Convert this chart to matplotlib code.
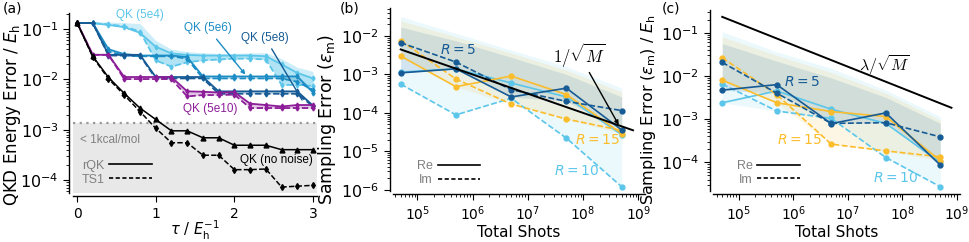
import numpy as np
import matplotlib
matplotlib.use("Agg")
import matplotlib.pyplot as plt
from matplotlib.lines import Line2D

# ---- panel (a): QKD energy error vs tau ----
tau = [0.0, 0.2, 0.4, 0.6, 0.8, 1.0, 1.2, 1.4, 1.6, 1.8, 2.0, 2.2, 2.4, 2.6, 2.8, 3.0]

qk5e4_rqk = [0.133, 0.133, 0.122, 0.11, 0.085, 0.045, 0.033, 0.031, 0.03, 0.03, 0.03, 0.03, 0.029, 0.02, 0.0135, 0.0105]
qk5e4_ts1 = [0.133, 0.133, 0.125, 0.115, 0.09, 0.024, 0.018, 0.022, 0.024, 0.025, 0.026, 0.026, 0.025, 0.0078, 0.0078, 0.0074]
qk5e4_hi = [0.136, 0.14, 0.14, 0.135, 0.13, 0.06, 0.04, 0.036, 0.034, 0.033, 0.033, 0.034, 0.034, 0.026, 0.0175, 0.0145]

qk5e6_rqk = [0.133, 0.133, 0.04, 0.032, 0.03, 0.03, 0.03, 0.028, 0.0115, 0.0115, 0.0115, 0.0115, 0.0115, 0.0115, 0.0115, 0.0055]
qk5e6_ts1 = [0.133, 0.133, 0.036, 0.03, 0.029, 0.029, 0.029, 0.026, 0.0105, 0.0105, 0.0105, 0.0105, 0.0105, 0.0105, 0.009, 0.0062]

qk5e8_rqk = [0.133, 0.133, 0.031, 0.031, 0.031, 0.0112, 0.0112, 0.0112, 0.0112, 0.0058, 0.0058, 0.0058, 0.0058, 0.0058, 0.0058, 0.003]
qk5e8_ts1 = [0.133, 0.133, 0.03, 0.03, 0.03, 0.0105, 0.0105, 0.0105, 0.0105, 0.0052, 0.0052, 0.0052, 0.0052, 0.0052, 0.0052, 0.0029]

qk5e10_rqk = [0.136, 0.031, 0.031, 0.0112, 0.0112, 0.0112, 0.0112, 0.0058, 0.0057, 0.0055, 0.0056, 0.0033, 0.0031, 0.0029, 0.0031, 0.0031]
qk5e10_ts1 = [0.136, 0.031, 0.031, 0.0102, 0.0102, 0.0102, 0.0102, 0.0046, 0.0049, 0.0049, 0.005, 0.0027, 0.0027, 0.0027, 0.0027, 0.0027]

exact_rqk = [0.136, 0.029, 0.011, 0.0053, 0.0027, 0.0016, 0.00095, 0.00095, 0.00069, 0.00069, 0.00049, 0.00049, 0.00049, 0.0004, 0.0004, 0.0004]
exact_ts1 = [0.136, 0.028, 0.0103, 0.0049, 0.0023, 0.00107, 0.00055, 0.00055, 0.00031, 0.00031, 0.00016, 0.00016, 0.000165, 0.000072, 0.000075, 0.000078]

chem_acc = 1.35e-3

# ---- panels (b), (c): sampling error vs total shots ----
shots = [5e4, 5e5, 5e6, 5e7, 5e8]
ref_shots = [5e4, 8e8]
lam = 52.0

b_r5_re = [1.1e-3, 1.4e-3, 2.6e-4, 4.4e-4, 3.6e-5]
b_r5_im = [6.7e-3, 2.1e-3, 4.0e-4, 2.0e-4, 1.15e-4]
b_r10_re = [1.15e-3, 1.4e-3, 6.0e-4, 2.6e-4, 2.7e-5]
b_r10_im = [5.6e-4, 8.9e-5, 2.4e-4, 2.2e-5, 1.2e-6]
b_r15_re = [3.0e-3, 4.8e-4, 9.1e-4, 3.0e-4, 2.9e-5]
b_r15_im = [7.6e-3, 7.6e-4, 1.7e-4, 6.9e-5, 3.5e-5]
b_r5_hi = [0.017, 0.0075, 2.8e-3, 1.0e-3, 2.6e-4]
b_r10_hi = [0.032, 0.0117, 4.3e-3, 1.6e-3, 4.4e-4]
b_r15_hi = [0.025, 0.0095, 3.6e-3, 1.3e-3, 3.5e-4]

c_r5_re = [4.7e-3, 6.3e-3, 7.9e-4, 1.4e-3, 8.7e-5]
c_r5_im = [2.06e-2, 4.0e-3, 8.0e-4, 8.3e-4, 3.9e-4]
c_r10_re = [2.4e-3, 4.5e-3, 1.7e-3, 8.0e-4, 1.0e-4]
c_r10_im = [6.5e-3, 1.55e-3, 1.04e-3, 1.3e-4, 2.75e-5]
c_r15_re = [8.0e-3, 2.4e-3, 1.5e-3, 1.15e-3, 1.1e-4]
c_r15_im = [2.64e-2, 3.7e-3, 2.65e-4, 1.85e-4, 1.35e-4]
c_r5_hi = [0.056, 0.022, 9e-3, 3.2e-3, 8e-4]
c_r10_hi = [0.105, 0.036, 0.015, 4.7e-3, 1.14e-3]
c_r15_hi = [0.08, 0.03, 0.012, 4.0e-3, 9.5e-4]

LIGHT = "#5cc6ea"
MED = "#1c8cc4"
DARK = "#165b95"
PURPLE = "#8c1c98"
YELLOW = "#fbbd2c"
ANNOT = ["Liberation Sans", "DejaVu Sans"]

plt.rcParams["font.size"] = 10
plt.rcParams["axes.linewidth"] = 1.0
plt.rcParams["xtick.labelsize"] = 10
plt.rcParams["ytick.labelsize"] = 11.5
plt.rcParams["xtick.major.size"] = 4
plt.rcParams["ytick.major.size"] = 4
plt.rcParams["xtick.minor.size"] = 2
plt.rcParams["ytick.minor.size"] = 2

fig = plt.figure(figsize=(9.69, 2.42), dpi=100)
W, H = 969.0, 242.0


def box(l, t, r, b):
    return [l / W, 1 - b / H, (r - l) / W, (b - t) / H]


def style(ax):
    for s in ["top", "right"]:
        ax.spines[s].set_visible(False)
    ax.spines["left"].set_position(("outward", 2.5))
    ax.spines["bottom"].set_position(("outward", 2.5))


def re_im_legend(ax, labels, anchor):
    h = [Line2D([], [], color="k", lw=1.2, ls="-"),
         Line2D([], [], color="k", lw=1.2, ls=(0, (2.5, 1.5)))]
    leg = ax.legend(h, labels, loc="lower left", bbox_to_anchor=anchor, frameon=False,
                    markerfirst=False, labelcolor="gray", handlelength=3.4,
                    handletextpad=0.4, labelspacing=0.15, borderpad=0.2,
                    prop={"family": ANNOT, "size": 9})
    return leg


# ================= (a) =================
ax = fig.add_axes(box(72.7, 13, 317, 192.7))
style(ax)
ax.set_yscale("log")
ax.set_xlim(-0.055, 3.05)
ax.set_ylim(5.56e-5, 0.211)
ax.axhspan(5.56e-5, chem_acc, color="#e8e8e8", lw=0, zorder=0)
ax.axhline(chem_acc, color="#999999", ls=(0, (1, 2)), lw=1.6, zorder=1)

series = [(qk5e4_rqk, qk5e4_ts1, LIGHT), (qk5e6_rqk, qk5e6_ts1, MED),
          (qk5e8_rqk, qk5e8_ts1, DARK), (qk5e10_rqk, qk5e10_ts1, PURPLE)]
ax.fill_between(tau, np.minimum(qk5e4_rqk, qk5e4_ts1), qk5e4_hi, color=LIGHT, alpha=0.3, lw=0)
for rq, ts, c in series:
    ax.fill_between(tau, np.minimum(rq, ts), np.maximum(rq, ts), color=c, alpha=0.25, lw=0)
for rq, ts, c in series:
    ax.plot(tau, rq, color=c, lw=1.3, marker="d", ms=2.5, zorder=3)
    ax.plot(tau, ts, color=c, lw=1.3, ls=(0, (3.5, 1.5)), marker="d", ms=2.5, zorder=3)
ax.plot(tau, exact_rqk, color="k", lw=1.1, marker="^", ms=3.5, zorder=4)
ax.plot(tau, exact_ts1, color="k", lw=1.1, ls=(0, (3.5, 1.5)), marker="d", ms=3, zorder=4)

ax.set_xticks([0, 1, 2, 3])
ax.set_yticks([1e-4, 1e-3, 1e-2, 1e-1])
ax.set_xlabel(r"$\tau$ / $E_\mathrm{h}^{-1}$", fontsize=10.5, labelpad=-1)
ax.set_ylabel(r"QKD Energy Error / $E_\mathrm{h}$", fontsize=12)
ax.yaxis.set_label_coords(-0.205, 0.43)

ax.text(0.80, 0.19, "QK (5e4)", color=LIGHT, ha="center", va="center", family=ANNOT, fontsize=8.5)
ax.annotate("QK (5e6)", xy=(2.14, 0.0125), xytext=(1.66, 0.105), color=MED, ha="center",
            va="center", family=ANNOT, fontsize=8.5,
            arrowprops=dict(arrowstyle="-|>", color=MED, lw=1.0, mutation_scale=6, shrinkA=2, shrinkB=0))
ax.annotate("QK (5e8)", xy=(2.86, 3.9e-3), xytext=(2.39, 0.068), color=DARK, ha="center",
            va="center", family=ANNOT, fontsize=8.5,
            arrowprops=dict(arrowstyle="-", color=DARK, lw=1.0, shrinkA=2, shrinkB=0))
ax.text(1.69, 2.6e-3, "QK (5e10)", color=PURPLE, ha="center", va="center", family=ANNOT, fontsize=8.5)
ax.text(2.54, 2.5e-4, "QK (no noise)", color="k", ha="center", va="center", family=ANNOT, fontsize=8.5)
ax.text(0.04, 6.3e-4, "< 1kcal/mol", color="gray", ha="left", va="center", family=ANNOT, fontsize=8.5)
re_im_legend(ax, ["rQK", "TS1"], (0.0, -0.01))
fig.text(3 / W, 1 - 9 / H, "(a)", ha="left", va="center", fontsize=10)


# ================= (b), (c) =================
def shots_panel(ax, data, ylim, yticks):
    style(ax)
    ax.set_xscale("log")
    ax.set_yscale("log")
    for re, im, hi, c in data:
        ax.fill_between(shots, np.minimum(re, im), hi, color=c, alpha=0.12, lw=0, zorder=1)
    for re, im, hi, c in data:
        ax.plot(shots, re, color=c, lw=1.2, marker="o", ms=3.5, zorder=3)
        ax.plot(shots, im, color=c, lw=1.2, ls=(0, (3.5, 1.5)), marker="o", ms=3.5, zorder=3)
    ax.set_ylim(*ylim)
    ax.set_yticks(yticks)
    ax.set_xticks([1e5, 1e6, 1e7, 1e8, 1e9])
    ax.set_xlabel("Total Shots", fontsize=11, labelpad=1)


axb = fig.add_axes(box(393, 8.3, 645, 191))
shots_panel(axb, [(b_r10_re, b_r10_im, b_r10_hi, LIGHT), (b_r15_re, b_r15_im, b_r15_hi, YELLOW),
                  (b_r5_re, b_r5_im, b_r5_hi, DARK)],
            (10 ** -6.03, 10 ** -1.28), [1e-6, 1e-5, 1e-4, 1e-3, 1e-2])
axb.set_xlim(10 ** 4.56, 10 ** 9.12)
axb.plot(ref_shots, 1 / np.sqrt(ref_shots), color="k", lw=1.4, zorder=4)
axb.set_ylabel(r"Sampling Error ($\varepsilon_\mathrm{m}$)", fontsize=12.5)
axb.yaxis.set_label_coords(-0.218, 0.39)
axb.text(5.5e5, 4.3e-3, r"$R = 5$", color=DARK, ha="center", va="center", fontsize=10)
axb.text(1.8e8, 2.0e-5, r"$R = 15$", color=YELLOW, ha="center", va="center", fontsize=10)
axb.text(7.8e7, 3.0e-6, r"$R = 10$", color=LIGHT, ha="center", va="center", fontsize=10)
axb.annotate(r"$1/\sqrt{M}$", xy=(4.4e8, 4.9e-5), xytext=(8.5e7, 3.3e-3), ha="center", va="center",
             fontsize=12, math_fontfamily="cm",
             arrowprops=dict(arrowstyle="-|>", color="k", lw=1.0, mutation_scale=6, shrinkA=1, shrinkB=0))
re_im_legend(axb, ["Re", "Im"], (0.06, -0.02))
fig.text(340 / W, 1 - 9 / H, "(b)", ha="left", va="center", fontsize=10)

axc = fig.add_axes(box(713, 10, 960, 191))
shots_panel(axc, [(c_r10_re, c_r10_im, c_r10_hi, LIGHT), (c_r15_re, c_r15_im, c_r15_hi, YELLOW),
                  (c_r5_re, c_r5_im, c_r5_hi, DARK)],
            (10 ** -4.66, 10 ** -0.475), [1e-4, 1e-3, 1e-2, 1e-1])
axc.set_xlim(10 ** 4.53, 10 ** 9.06)
axc.plot(ref_shots, lam / np.sqrt(ref_shots), color="k", lw=1.4, zorder=4)
axc.set_ylabel(r"Sampling Error ($\varepsilon_\mathrm{m}$) / $E_\mathrm{h}$", fontsize=11.5)
axc.yaxis.set_label_coords(-0.221, 0.45)
axc.text(1.45e6, 7.4e-3, r"$R = 5$", color=DARK, ha="center", va="center", fontsize=10)
axc.text(1.3e6, 3.3e-4, r"$R = 15$", color=YELLOW, ha="center", va="center", fontsize=10)
axc.text(7.6e7, 4.3e-5, r"$R = 10$", color=LIGHT, ha="center", va="center", fontsize=10)
axc.text(4.7e7, 0.018, r"$\lambda/\sqrt{M}$", ha="center", va="center", fontsize=11.5, math_fontfamily="cm")
re_im_legend(axc, ["Re", "Im"], (0.06, -0.02))
fig.text(662 / W, 1 - 9 / H, "(c)", ha="left", va="center", fontsize=10)

fig.savefig("out.png", dpi=100)
